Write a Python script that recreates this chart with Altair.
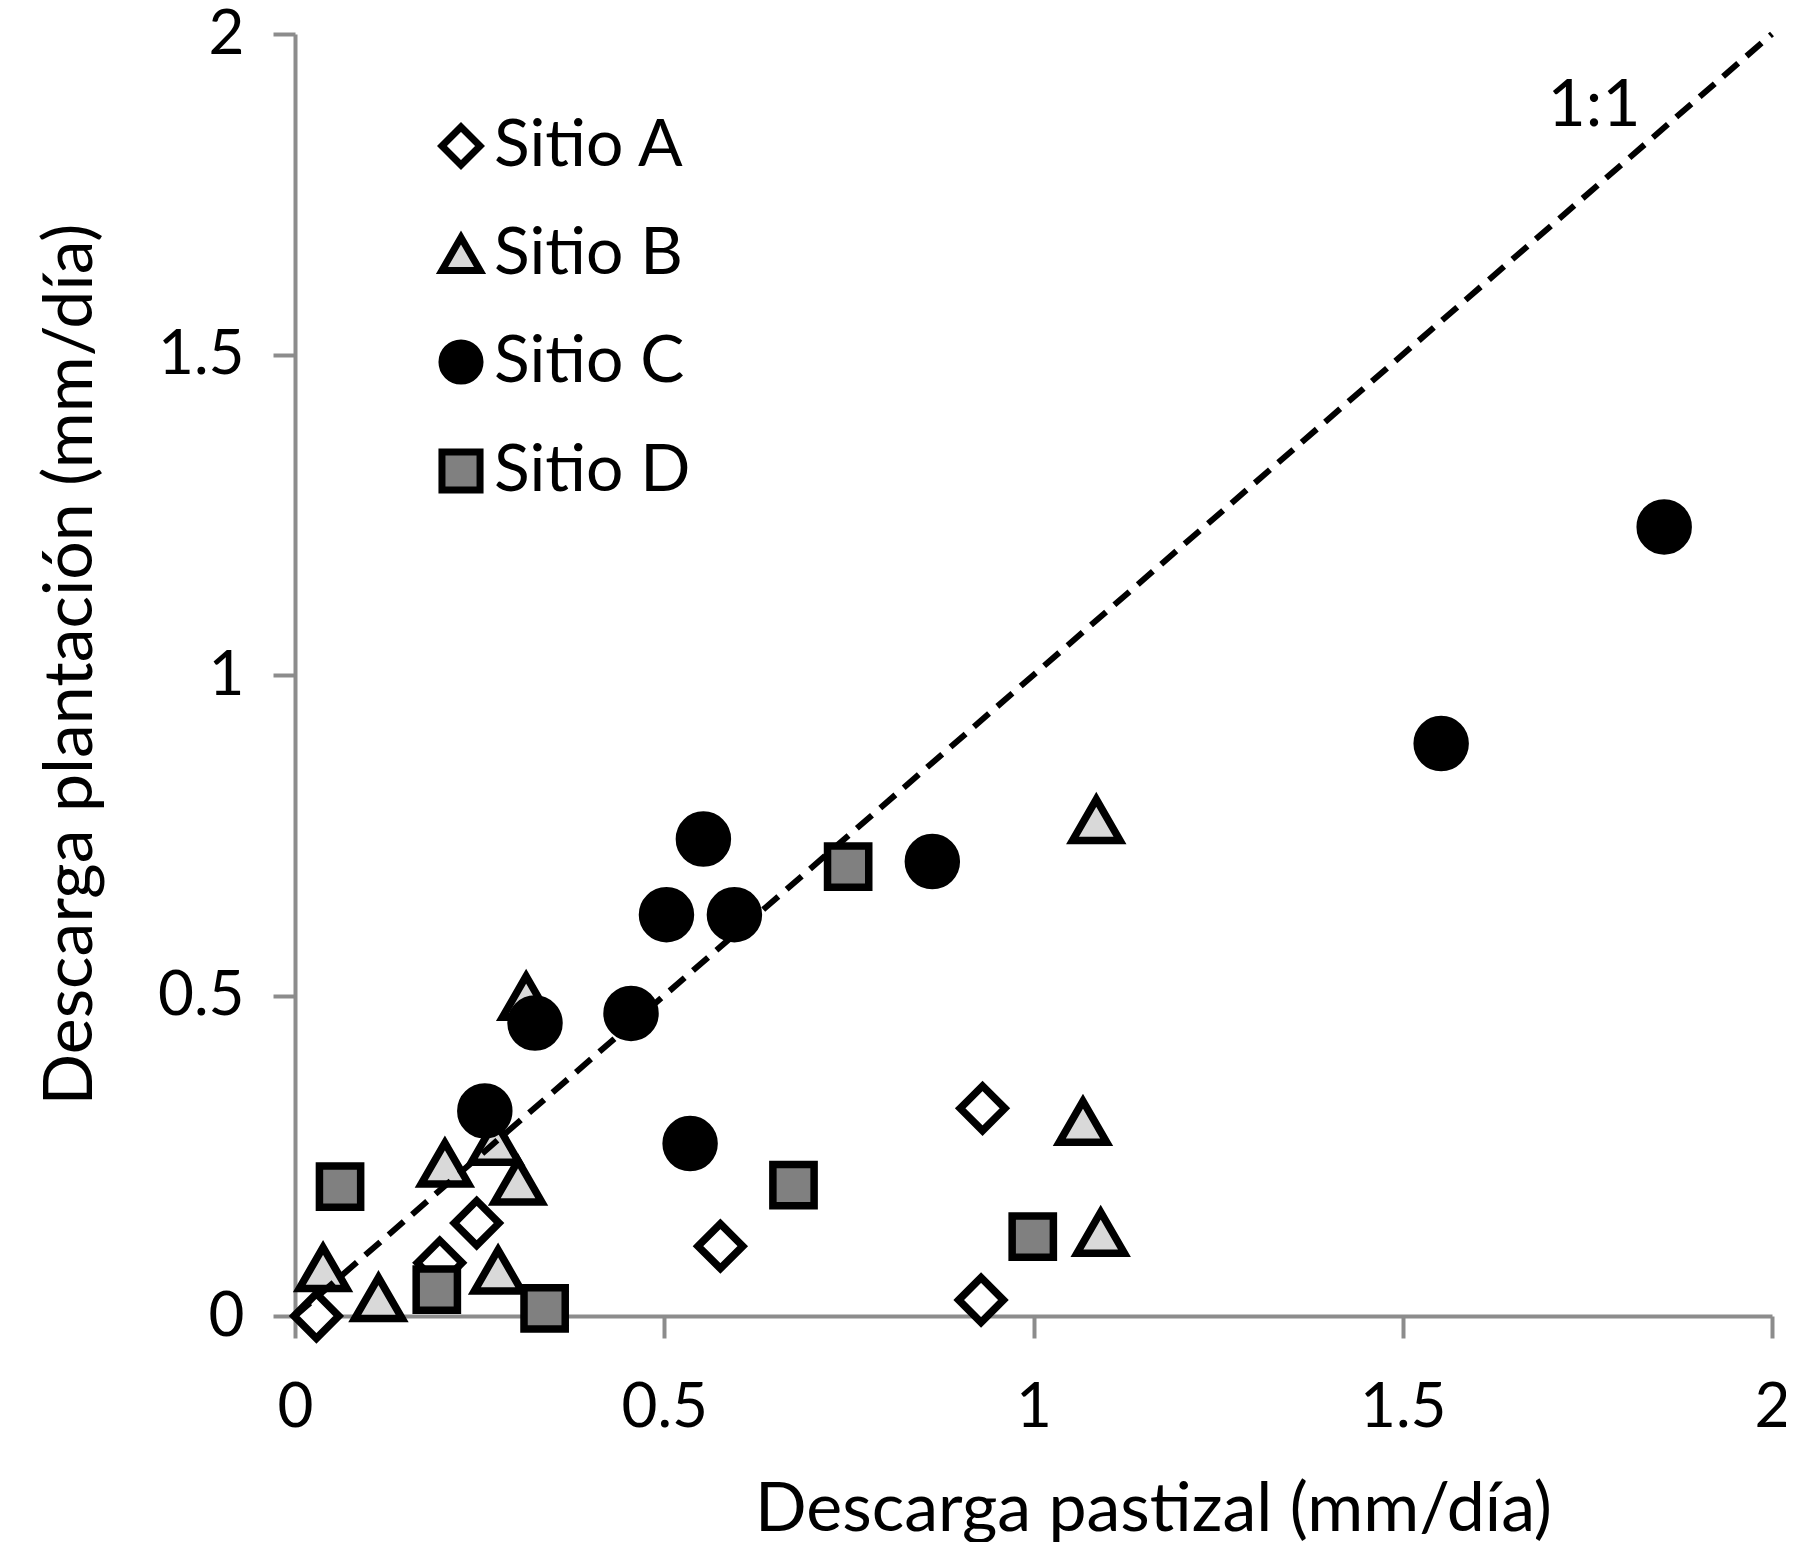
import altair as alt
import pandas as pd

# ---- data ----
sites = ["Sitio A", "Sitio B", "Sitio C", "Sitio D"]

a_x = [0.029, 0.196, 0.246, 0.576, 0.931, 0.929]
a_y = [0.000, 0.083, 0.145, 0.109, 0.324, 0.025]

b_x = [0.038, 0.113, 0.203, 0.271, 0.275, 0.302, 0.313, 1.067, 1.091, 1.085]
b_y = [0.075, 0.028, 0.238, 0.272, 0.071, 0.210, 0.498, 0.303, 0.130, 0.774]

c_x = [0.257, 0.325, 0.455, 0.503, 0.595, 0.553, 0.535, 0.863, 1.552, 1.854]
c_y = [0.320, 0.457, 0.472, 0.626, 0.626, 0.744, 0.269, 0.709, 0.893, 1.231]

d_x = [0.061, 0.192, 0.338, 0.675, 0.749, 0.999]
d_y = [0.202, 0.041, 0.012, 0.204, 0.701, 0.124]

line_x = [0.0, 2.0]
line_y = [0.0, 2.0]

label_x = [1.759]
label_y = [1.887]
label_t = ["1:1"]

axis_ticks = [0, 0.5, 1, 1.5, 2]

rows = []
for name, xs, ys in zip(sites, [a_x, b_x, c_x, d_x], [a_y, b_y, c_y, d_y]):
    for xv, yv in zip(xs, ys):
        rows.append({"Sitio": name, "x": xv, "y": yv})
df = pd.DataFrame(rows)
line_df = pd.DataFrame({"x": line_x, "y": line_y})
label_df = pd.DataFrame({"x": label_x, "y": label_y, "t": label_t})

FONT = "Lato"
FS_TICK = 62
FS_TITLE = 68
FS_LEG = 66

xscale = alt.Scale(domain=[0, 2], nice=False, zero=False)
yscale = alt.Scale(domain=[0, 2], nice=False, zero=False)

x_axis = alt.Axis(values=axis_ticks, format="~g", title="Descarga pastizal (mm/día)",
                  labelFlush=False, labelOverlap=False, labelBaseline="alphabetic",
                  labelPadding=88, titleX=858, titleY=214, titleAlign="center",
                  titleBaseline="alphabetic", titleAnchor="start")
y_axis = alt.Axis(values=axis_ticks, format="~g", title="Descarga plantación (mm/día)",
                  labelFlush=False, labelOverlap=False, labelBaseline="middle",
                  labelPadding=29, titleX=-224, titleY=630, titleAlign="center",
                  titleBaseline="middle", titleAngle=270, titleAnchor="start")

legend = alt.Legend(orient="none", legendX=127, legendY=79, title=None,
                    labelFont=FONT, labelFontSize=FS_LEG, labelColor="black",
                    labelLimit=500, symbolSize=1450, symbolStrokeWidth=7,
                    symbolStrokeColor="black", rowPadding=41, labelOffset=0,
                    symbolOffset=6, padding=0, symbolOpacity=1)

shape_scale = alt.Scale(domain=sites, range=["diamond", "triangle-up", "circle", "square"])
fill_scale = alt.Scale(domain=sites, range=["#ffffff", "#d9d9d9", "#000000", "#808080"])
stroke_scale = alt.Scale(domain=sites, range=["#000000", "#000000", "#000000", "#000000"])
sizes = {"Sitio A": 2000, "Sitio B": 2250, "Sitio C": 2300, "Sitio D": 1700}


def site_layer(name):
    return alt.Chart(df).transform_filter(
        alt.datum.Sitio == name
    ).mark_point(filled=True, strokeWidth=7.5, size=sizes[name],
                 opacity=1, fillOpacity=1, strokeOpacity=1).encode(
        x=alt.X("x:Q", scale=xscale, axis=x_axis),
        y=alt.Y("y:Q", scale=yscale, axis=y_axis),
        shape=alt.Shape("Sitio:N", scale=shape_scale, legend=legend),
        fill=alt.Fill("Sitio:N", scale=fill_scale, legend=legend),
        stroke=alt.Stroke("Sitio:N", scale=stroke_scale, legend=legend),
    )


line = alt.Chart(line_df).mark_line(color="black", strokeWidth=6, strokeDash=[20, 11]).encode(
    x=alt.X("x:Q", scale=xscale),
    y=alt.Y("y:Q", scale=yscale),
)

text = alt.Chart(label_df).mark_text(font=FONT, fontSize=FS_LEG, color="black",
                                     align="center", baseline="middle").encode(
    x=alt.X("x:Q", scale=xscale),
    y=alt.Y("y:Q", scale=yscale),
    text="t:N",
)

chart = alt.layer(
    site_layer("Sitio A"), site_layer("Sitio B"), line,
    site_layer("Sitio C"), site_layer("Sitio D"), text
).properties(
    width=1477, height=1282,
    autosize=alt.AutoSizeParams(type="none"),
    padding={"left": 287, "top": 26, "right": 14, "bottom": 226},
).configure_view(stroke=None).configure_axis(
    domainColor="#8c8c8c", domainWidth=4, tickColor="#8c8c8c", tickWidth=4,
    tickSize=22, grid=False, labelFont=FONT, labelFontSize=FS_TICK, labelColor="black",
    titleFont=FONT, titleFontSize=FS_TITLE, titleFontWeight="normal", titleColor="black",
    labelLimit=500,
)

chart.save("out.html", embed_options={"renderer": "svg", "actions": False})
